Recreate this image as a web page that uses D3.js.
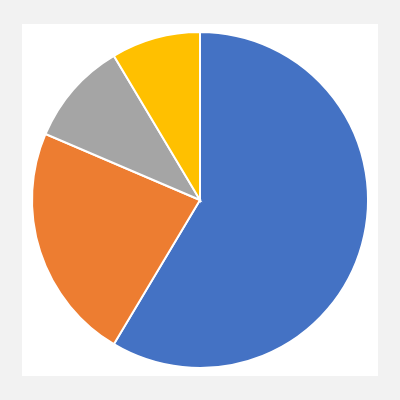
<!DOCTYPE html>
<html><head><meta charset="utf-8">
<script src="https://cdn.jsdelivr.net/npm/d3@7"></script>
<style>body{margin:0;background:#f2f2f2}</style></head>
<body><svg width="400" height="400"></svg>
<script>
const categories=["1st Qtr","2nd Qtr","3rd Qtr","4th Qtr"];
const values=[8.2,3.2,1.4,1.2];
const colors=["#4472c4","#ed7d31","#a5a5a5","#ffc000"];
const svg=d3.select("svg");
svg.append("rect").attr("x",22).attr("y",24).attr("width",356).attr("height",352).attr("fill","#fff");
const pie=d3.pie().sort(null)(values);
const arc=d3.arc().innerRadius(0).outerRadius(168);
svg.append("g").attr("transform","translate(200,200)").selectAll("path").data(pie).join("path")
 .attr("d",arc).attr("fill",(d,i)=>colors[i]).attr("stroke","#fff").attr("stroke-width",2);
</script></body></html>
